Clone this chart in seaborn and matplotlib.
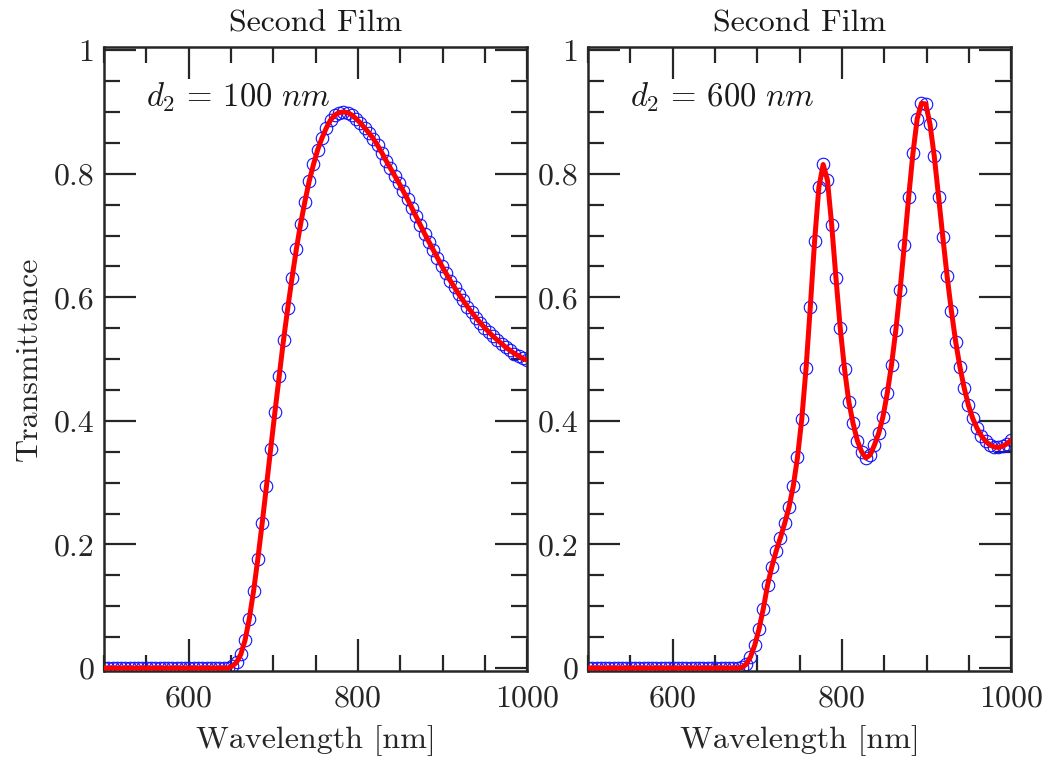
import numpy as np
import pandas as pd
import matplotlib
matplotlib.use("Agg")
import matplotlib.pyplot as plt
import seaborn as sns
from matplotlib.ticker import MultipleLocator, FixedLocator, FixedFormatter

# ---------------- data ----------------
wavelength_nm = np.linspace(500, 1000, 100)

T_d100 = [0.0] * 30 + [
    0.003, 0.009, 0.022, 0.045, 0.080, 0.125, 0.177, 0.234, 0.294, 0.355,
    0.415, 0.473, 0.531, 0.583, 0.632, 0.678, 0.719, 0.755, 0.788, 0.815,
    0.839, 0.858, 0.874, 0.887, 0.895, 0.899, 0.900, 0.899, 0.895, 0.889,
    0.882, 0.874, 0.866, 0.857, 0.846, 0.834, 0.821, 0.809, 0.797, 0.785,
    0.772, 0.759, 0.745, 0.731, 0.717, 0.703, 0.690, 0.677, 0.664, 0.651,
    0.639, 0.627, 0.616, 0.605, 0.595, 0.585, 0.576, 0.567, 0.559, 0.551,
    0.544, 0.537, 0.531, 0.525, 0.519, 0.514, 0.509, 0.505, 0.501, 0.498,
]

T_d600 = [0.0] * 36 + [
    0.001, 0.006, 0.018, 0.037, 0.063, 0.096, 0.134, 0.164, 0.189, 0.211,
    0.234, 0.260, 0.294, 0.341, 0.403, 0.485, 0.585, 0.691, 0.778, 0.815,
    0.790, 0.717, 0.631, 0.550, 0.484, 0.431, 0.396, 0.368, 0.350, 0.340,
    0.345, 0.361, 0.380, 0.407, 0.445, 0.491, 0.547, 0.612, 0.685, 0.762,
    0.833, 0.889, 0.914, 0.913, 0.880, 0.828, 0.763, 0.697, 0.634, 0.578,
    0.528, 0.487, 0.453, 0.425, 0.404, 0.388, 0.376, 0.367, 0.361, 0.358,
    0.357, 0.359, 0.363, 0.369,
]

panel_titles = ["Second Film", "Second Film"]
panel_labels = [r"$d_2\,=\,100\ nm$", r"$d_2\,=\,600\ nm$"]
x_ticks = [600, 800, 1000]
x_ticklabels = ["600", "800", "1000"]
y_ticks = [0, 0.2, 0.4, 0.6, 0.8, 1.0]
y_ticklabels = ["0", "0.2", "0.4", "0.6", "0.8", "1"]

# ---------------- style ----------------
sns.set_style("ticks")
plt.rcParams["font.family"] = ["cmr10", "DejaVu Serif"]
plt.rcParams["mathtext.fontset"] = "cm"
plt.rcParams["axes.formatter.use_mathtext"] = True
plt.rcParams["axes.unicode_minus"] = False

fig = plt.figure(figsize=(10.45, 7.6), dpi=100)
ax_pos = [[0.0995, 0.117, 0.405, 0.821], [0.5627, 0.117, 0.405, 0.821]]

datasets = [T_d100, T_d600]
spine_col = "#262626"
fs = 23

for i in range(2):
    ax = fig.add_axes(ax_pos[i])
    df = pd.DataFrame({"wl": wavelength_nm, "T": datasets[i]})
    sns.lineplot(data=df, x="wl", y="T", ax=ax, linestyle="none", marker="o",
                 markersize=9, markerfacecolor="none", markeredgecolor="#1010ff",
                 markeredgewidth=0.8, zorder=2)
    sns.lineplot(data=df, x="wl", y="T", ax=ax, color="#ff0000", linewidth=3.6,
                 zorder=3)
    ax.set_xlim(500, 1000)
    ax.set_ylim(-0.005, 1.005)
    ax.xaxis.set_major_locator(FixedLocator(x_ticks))
    ax.xaxis.set_major_formatter(FixedFormatter(x_ticklabels))
    ax.xaxis.set_minor_locator(MultipleLocator(50))
    ax.yaxis.set_major_locator(FixedLocator(y_ticks))
    ax.yaxis.set_major_formatter(FixedFormatter(y_ticklabels))
    ax.yaxis.set_minor_locator(MultipleLocator(0.05))
    ax.tick_params(which="both", direction="in", top=True, right=True,
                   color=spine_col, width=1.6, labelsize=fs, labelcolor="#262626")
    ax.tick_params(which="major", length=23)
    ax.tick_params(which="minor", length=11.5)
    ax.tick_params(axis="y", which="major", pad=7)
    ax.tick_params(axis="x", which="major", pad=10)
    for sp in ax.spines.values():
        sp.set_color(spine_col)
        sp.set_linewidth(1.8)
    ax.set_xlabel("Wavelength [nm]", fontsize=fs, color="#262626", labelpad=9)
    if i == 0:
        ax.set_ylabel("Transmittance", fontsize=fs, color="#262626", labelpad=8)
    else:
        ax.set_ylabel("")
    ax.set_title(panel_titles[i], fontsize=fs, color="#1a1a1a", pad=11)
    ax.text(0.1, 0.92, panel_labels[i], transform=ax.transAxes, fontsize=23.5,
            ha="left", va="center", color="#1a1a1a")

fig.savefig("out.png", dpi=100)
